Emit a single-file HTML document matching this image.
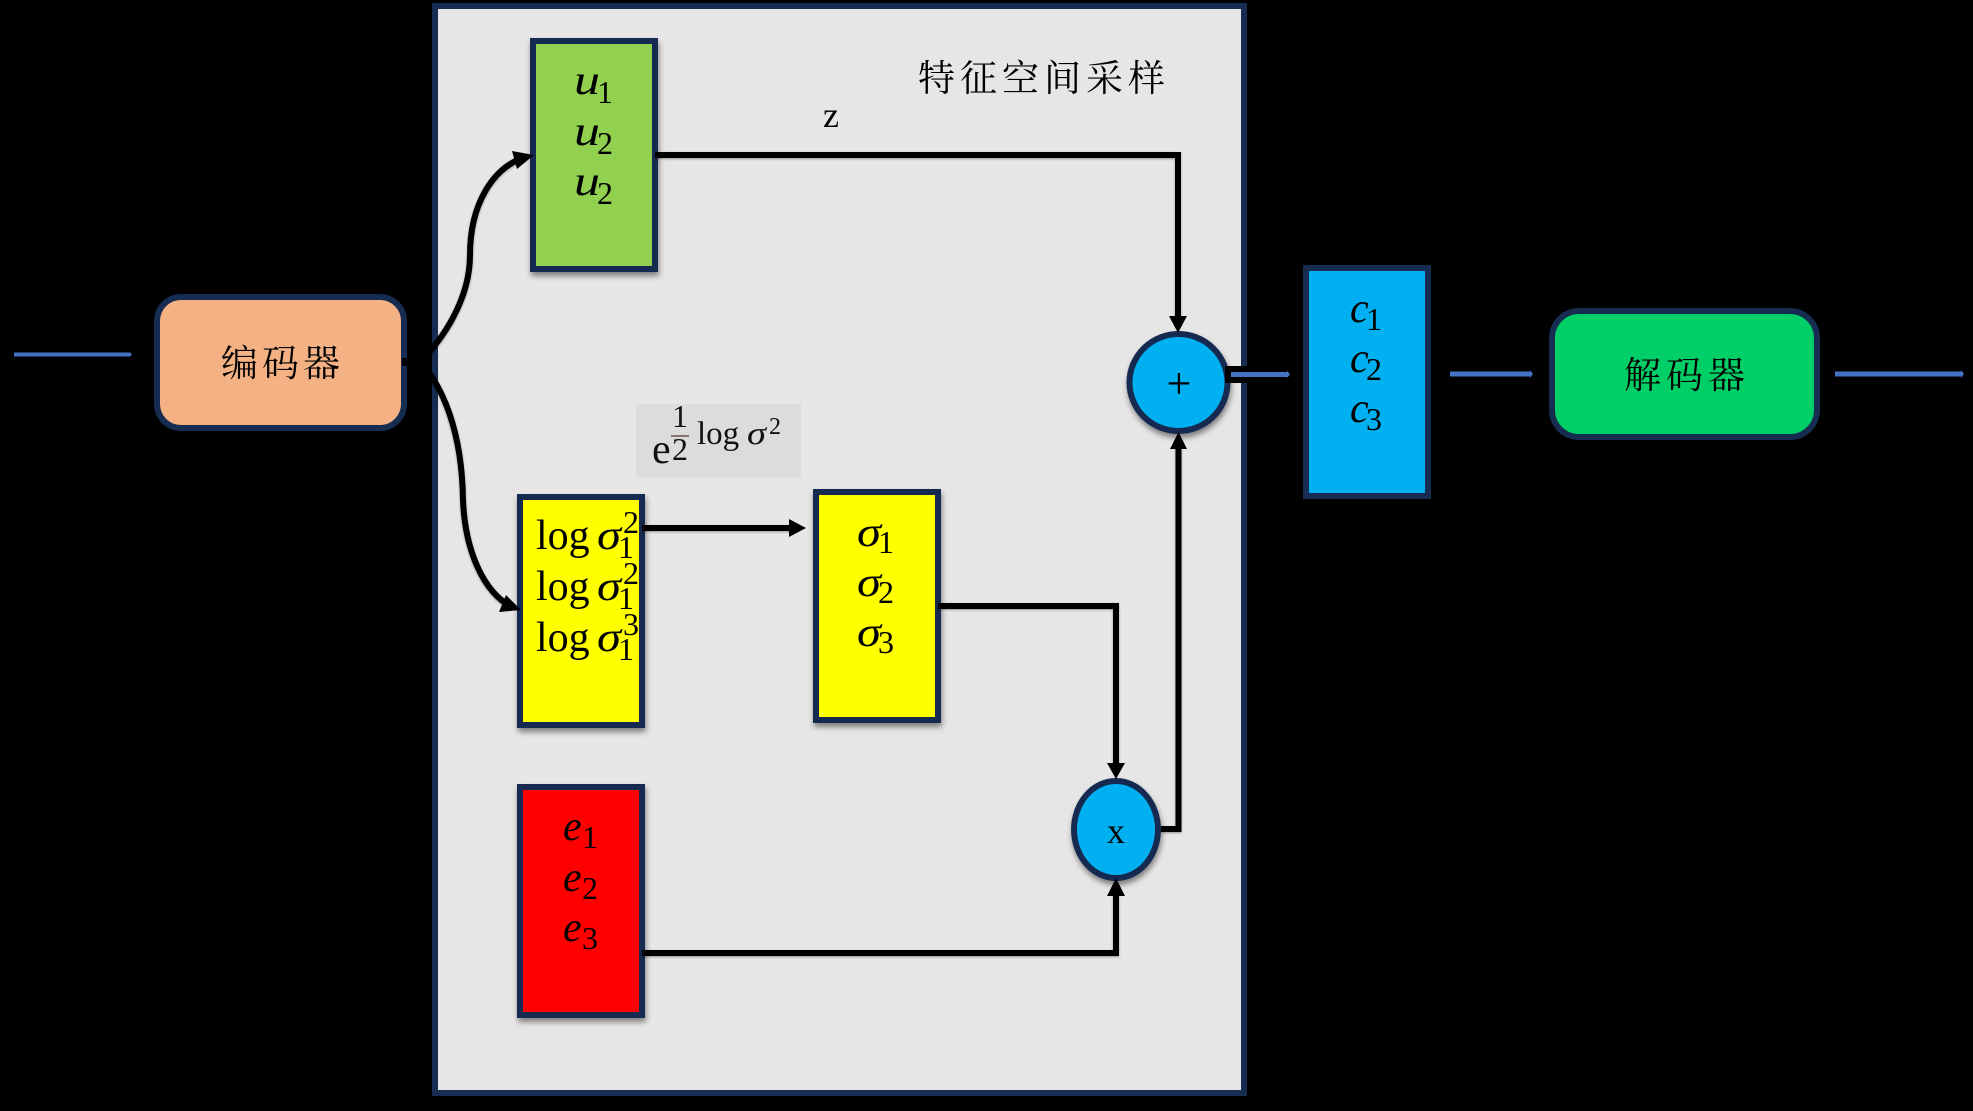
<!DOCTYPE html>
<html lang="zh">
<head>
<meta charset="utf-8">
<style>
html,body{margin:0;padding:0;background:#000;width:1973px;height:1111px;overflow:hidden}
svg{display:block}
.m{font-family:"Liberation Serif",serif;font-style:italic;font-size:42px}
.s{font-family:"Liberation Serif",serif;font-size:32px}
.r{font-family:"Liberation Serif",serif;font-size:42px}
.c{font-family:"Liberation Serif","Noto Serif CJK SC",serif;font-size:37px;letter-spacing:5px}
</style>
</head>
<body>
<svg width="1973" height="1111" viewBox="0 0 1973 1111" xmlns="http://www.w3.org/2000/svg">
<defs>
<filter id="sh" x="-20%" y="-20%" width="140%" height="140%"><feDropShadow dx="1" dy="4" stdDeviation="3" flood-color="#000" flood-opacity=".45"/></filter>
<filter id="ln" x="-5%" y="-5%" width="110%" height="110%"><feDropShadow dx="0" dy="1" stdDeviation="1" flood-color="#000" flood-opacity=".35"/></filter>
</defs>
<rect width="1973" height="1111" fill="#000"/>

<!-- panel -->
<rect x="435" y="6" width="809" height="1087" fill="#e6e6e6" stroke="#172c51" stroke-width="6"/>

<!-- label background -->
<rect x="636" y="404" width="165" height="73" fill="#dcdcdc"/>

<!-- boxes -->
<g stroke="#172c51" stroke-width="6" filter="url(#sh)">
<rect x="533" y="41" width="122" height="228" fill="#92d050"/>
<rect x="520" y="497" width="122" height="228" fill="#ffff00"/>
<rect x="816" y="492" width="122" height="228" fill="#ffff00"/>
<rect x="520" y="787" width="122" height="228" fill="#ff0000"/>
<ellipse cx="1178.5" cy="382.5" rx="49" ry="48.5" fill="#00b0f0"/>
<ellipse cx="1116" cy="829.5" rx="42" ry="48.5" fill="#00b0f0"/>
</g>
<rect x="157" y="297" width="247" height="131" rx="24" fill="#f4b183" stroke="#172c51" stroke-width="6"/>
<rect x="1306" y="268" width="122" height="228" fill="#00b0f0" stroke="#172c51" stroke-width="6"/>
<rect x="1552" y="311" width="265" height="126" rx="27" fill="#00cf67" stroke="#172c51" stroke-width="6"/>

<!-- connectors -->
<g fill="none" stroke="#000" stroke-width="6" filter="url(#ln)">
<path d="M420 362 C442 340 470 300 470 255 C470 205 492 168 525 157"/>
<path d="M420 362 C442 385 462 430 463 500 C465 550 483 592 512 607"/>
<path d="M655 155 H1178 V318"/>
<path d="M642 528 H792"/>
<path d="M938 606 H1116 V765"/>
<path d="M642 953 H1116 V894"/>
<path d="M1161 829 H1178.5 V447"/>
</g>
<g fill="#000">
<polygon points="512,151 534,155 517,169"/>
<polygon points="506,595 521,610 499,612"/>
<polygon points="1169,316 1187,316 1178,333"/>
<polygon points="789,519 806,528 789,537"/>
<polygon points="1107,763 1125,763 1116,779"/>
<polygon points="1107,896 1125,896 1116,878"/>
<polygon points="1170,449 1187,449 1178.5,432"/>
<rect x="1225" y="366" width="22" height="17"/>
<rect x="402" y="358" width="10" height="8"/>
</g>

<!-- blue arrows -->
<g fill="#4472c4">
<polygon points="14,352.5 130,352.5 132,354.5 130,356.5 14,356.5"/>
<polygon points="1231,372 1287,372 1287,370.5 1290,374.5 1287,378 1287,377 1231,377"/>
<polygon points="1450,371.5 1530,371.5 1530,370 1533,374 1530,378 1530,376.5 1450,376.5"/>
<polygon points="1835,371.5 1961,371.5 1961,370 1964,374 1961,378 1961,376.5 1835,376.5"/>
</g>

<!-- Chinese labels -->
<text class="c" x="221" y="376" style="letter-spacing:4px">编码器</text>
<text class="c" x="1624" y="388">解码器</text>
<text class="c" x="918" y="91">特征空间采样</text>

<!-- plain labels -->
<text class="r" style="font-size:36px" x="823" y="127">z</text>
<text class="r" style="font-size:36px" x="1107" y="843">x</text>
<text class="r" style="font-size:44px" x="1166.5" y="398">+</text>

<!-- u -->
<g>
<text class="m" x="574" y="94" textLength="26" lengthAdjust="spacingAndGlyphs">u</text><text class="s" x="597" y="103">1</text>
<text class="m" x="574" y="145" textLength="26" lengthAdjust="spacingAndGlyphs">u</text><text class="s" x="597" y="154">2</text>
<text class="m" x="574" y="195" textLength="26" lengthAdjust="spacingAndGlyphs">u</text><text class="s" x="597" y="204">2</text>
</g>

<!-- log sigma -->
<g>
<text class="r" x="536" y="549">log</text><text class="m" x="597" y="549" textLength="24" lengthAdjust="spacingAndGlyphs">σ</text><text class="s" x="623" y="533">2</text><text class="s" x="618" y="558">1</text>
<text class="r" x="536" y="600">log</text><text class="m" x="597" y="600" textLength="24" lengthAdjust="spacingAndGlyphs">σ</text><text class="s" x="623" y="584">2</text><text class="s" x="618" y="609">1</text>
<text class="r" x="536" y="651">log</text><text class="m" x="597" y="651" textLength="24" lengthAdjust="spacingAndGlyphs">σ</text><text class="s" x="623" y="635">3</text><text class="s" x="618" y="660">1</text>
</g>

<!-- sigma -->
<g>
<text class="m" x="857" y="546" textLength="24" lengthAdjust="spacingAndGlyphs">σ</text><text class="s" x="878" y="553">1</text>
<text class="m" x="857" y="596" textLength="24" lengthAdjust="spacingAndGlyphs">σ</text><text class="s" x="878" y="603">2</text>
<text class="m" x="857" y="646" textLength="24" lengthAdjust="spacingAndGlyphs">σ</text><text class="s" x="878" y="653">3</text>
</g>

<!-- e -->
<g>
<text class="m" x="563" y="840">e</text><text class="s" x="582" y="848">1</text>
<text class="m" x="563" y="891">e</text><text class="s" x="582" y="899">2</text>
<text class="m" x="563" y="941">e</text><text class="s" x="582" y="949">3</text>
</g>

<!-- c -->
<g>
<text class="m" x="1350" y="322">c</text><text class="s" x="1366" y="330">1</text>
<text class="m" x="1350" y="372">c</text><text class="s" x="1366" y="380">2</text>
<text class="m" x="1350" y="422">c</text><text class="s" x="1366" y="430">3</text>
</g>

<!-- formula -->
<g fill="#111">
<text class="r" x="652" y="463">e</text>
<text class="s" x="672" y="427">1</text>
<rect x="671" y="435" width="18" height="2" fill="#8a6f6f"/>
<text class="s" x="672" y="460">2</text>
<text class="r" style="font-size:33px" x="697" y="444">log</text>
<text class="m" style="font-size:33px" x="747" y="444" textLength="19" lengthAdjust="spacingAndGlyphs">σ</text>
<text class="s" style="font-size:24px" x="769" y="434">2</text>
</g>
</svg>
</body>
</html>
